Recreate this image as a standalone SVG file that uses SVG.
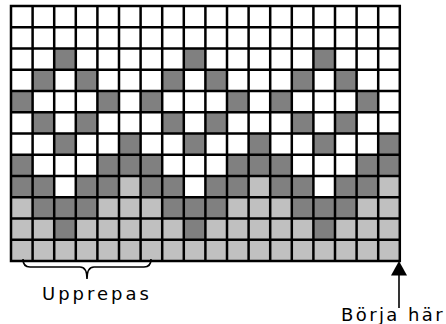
<svg xmlns="http://www.w3.org/2000/svg" width="446" height="324" viewBox="0 0 446 324">
<defs>
<style>
.d{fill:#808080}
.l{fill:#c0c0c0}
.grid{fill:none;stroke:#000;stroke-width:2.5}
.conn{fill:none;stroke:#000;stroke-width:1.6}
.head{fill:#000;stroke:none}
.lbl{font-family:"DejaVu Sans",sans-serif;font-size:18px;letter-spacing:3px;fill:#000}
</style>
</defs>
<rect width="446" height="324" fill="#fff"/>
<g id="chart">
<rect x="11" y="6" width="388.8" height="255" fill="#fff"/>
<rect class="l" x="11" y="197.25" width="388.8" height="63.75"/>
<g id="row2">
<rect class="d" x="54.2" y="48.5" width="21.6" height="21.25"/>
<rect class="d" x="183.8" y="48.5" width="21.6" height="21.25"/>
<rect class="d" x="313.4" y="48.5" width="21.6" height="21.25"/>
</g>
<g id="row3">
<rect class="d" x="32.6" y="69.75" width="21.6" height="21.25"/>
<rect class="d" x="75.8" y="69.75" width="21.6" height="21.25"/>
<rect class="d" x="162.2" y="69.75" width="21.6" height="21.25"/>
<rect class="d" x="205.4" y="69.75" width="21.6" height="21.25"/>
<rect class="d" x="291.8" y="69.75" width="21.6" height="21.25"/>
<rect class="d" x="335" y="69.75" width="21.6" height="21.25"/>
</g>
<g id="row4">
<rect class="d" x="11" y="91" width="21.6" height="21.25"/>
<rect class="d" x="97.4" y="91" width="21.6" height="21.25"/>
<rect class="d" x="140.6" y="91" width="21.6" height="21.25"/>
<rect class="d" x="227" y="91" width="21.6" height="21.25"/>
<rect class="d" x="270.2" y="91" width="21.6" height="21.25"/>
<rect class="d" x="356.6" y="91" width="21.6" height="21.25"/>
</g>
<g id="row5">
<rect class="d" x="32.6" y="112.25" width="21.6" height="21.25"/>
<rect class="d" x="75.8" y="112.25" width="21.6" height="21.25"/>
<rect class="d" x="162.2" y="112.25" width="21.6" height="21.25"/>
<rect class="d" x="205.4" y="112.25" width="21.6" height="21.25"/>
<rect class="d" x="291.8" y="112.25" width="21.6" height="21.25"/>
<rect class="d" x="335" y="112.25" width="21.6" height="21.25"/>
</g>
<g id="row6">
<rect class="d" x="54.2" y="133.5" width="21.6" height="21.25"/>
<rect class="d" x="119" y="133.5" width="21.6" height="21.25"/>
<rect class="d" x="183.8" y="133.5" width="21.6" height="21.25"/>
<rect class="d" x="248.6" y="133.5" width="21.6" height="21.25"/>
<rect class="d" x="313.4" y="133.5" width="21.6" height="21.25"/>
<rect class="d" x="378.2" y="133.5" width="21.6" height="21.25"/>
</g>
<g id="row7">
<rect class="d" x="11" y="154.75" width="21.6" height="21.25"/>
<rect class="d" x="97.4" y="154.75" width="64.8" height="21.25"/>
<rect class="d" x="227" y="154.75" width="64.8" height="21.25"/>
<rect class="d" x="356.6" y="154.75" width="43.2" height="21.25"/>
</g>
<g id="row8">
<rect class="d" x="11" y="176" width="43.2" height="21.25"/>
<rect class="d" x="75.8" y="176" width="43.2" height="21.25"/>
<rect class="d" x="140.6" y="176" width="43.2" height="21.25"/>
<rect class="d" x="205.4" y="176" width="43.2" height="21.25"/>
<rect class="d" x="270.2" y="176" width="43.2" height="21.25"/>
<rect class="d" x="335" y="176" width="43.2" height="21.25"/>
<rect class="l" x="119" y="176" width="21.6" height="21.25"/>
<rect class="l" x="248.6" y="176" width="21.6" height="21.25"/>
<rect class="l" x="378.2" y="176" width="21.6" height="21.25"/>
</g>
<g id="row9">
<rect class="d" x="32.6" y="197.25" width="64.8" height="21.25"/>
<rect class="d" x="162.2" y="197.25" width="64.8" height="21.25"/>
<rect class="d" x="291.8" y="197.25" width="64.8" height="21.25"/>
</g>
<g id="row10">
<rect class="d" x="54.2" y="218.5" width="21.6" height="21.25"/>
<rect class="d" x="183.8" y="218.5" width="21.6" height="21.25"/>
<rect class="d" x="313.4" y="218.5" width="21.6" height="21.25"/>
</g>
<path class="grid" d="M11,6V261M32.6,6V261M54.2,6V261M75.8,6V261M97.4,6V261M119,6V261M140.6,6V261M162.2,6V261M183.8,6V261M205.4,6V261M227,6V261M248.6,6V261M270.2,6V261M291.8,6V261M313.4,6V261M335,6V261M356.6,6V261M378.2,6V261M399.8,6V261M9.75,6H401.05M9.75,27.25H401.05M9.75,48.5H401.05M9.75,69.75H401.05M9.75,91H401.05M9.75,112.25H401.05M9.75,133.5H401.05M9.75,154.75H401.05M9.75,176H401.05M9.75,197.25H401.05M9.75,218.5H401.05M9.75,239.75H401.05M9.75,261H401.05"/>
</g>
<g id="connectors">
<path id="brace" class="conn" d="M23,259 Q23,267 30,267 H80 Q87,267 87,279 Q87,267 94,267 H144 Q151,267 151,259"/>
<g id="start-arrow">
<line class="conn" x1="399" y1="308" x2="399" y2="274"/>
<polygon class="head" points="391,275.5 407,275.5 399,261"/>
</g>
</g>
<g id="labels">
<text class="lbl" x="42" y="300">Upprepas</text>
<text class="lbl" x="341" y="321" style="letter-spacing:2.4px">Börja här</text>
</g>
</svg>
